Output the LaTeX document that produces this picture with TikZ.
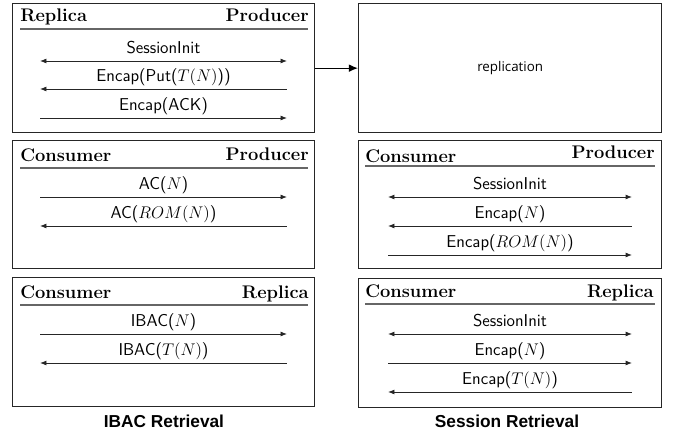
\documentclass[tikz,border=0pt]{standalone}
\usepackage{fontspec}
\newfontfamily\repfont{Open Sans}
\newfontfamily\capfont{Liberation Sans}
\usetikzlibrary{arrows.meta, positioning}
\tikzset{
  x=0.025cm, y=-0.025cm,                  % one unit = one pixel of the sketch
  frame/.style   = {draw=black!85, line width=0.9pt, anchor=north west,
                    minimum width=7.55cm, minimum height=3.225cm, inner sep=0pt},
  party/.style   = {font=\fontsize{13}{15}\selectfont\bfseries, inner sep=0pt},
  rule/.style    = {draw=black!60, line width=1pt},
  lbl/.style     = {font=\fontsize{12.2}{14}\selectfont\sffamily, anchor=base,
                    inner sep=0pt, yshift=5pt},
  msg/.style     = {line width=0.65pt, draw=black!85},
  fw/.style      = {msg, -{Latex[length=4.6pt, width=3.6pt]}},
  bw/.style      = {msg, {Latex[length=4.6pt, width=3.6pt]}-},
  bi/.style      = {msg, {Latex[length=4.6pt, width=3.6pt]}-{Latex[length=4.6pt, width=3.6pt]}},
  caption/.style = {font=\fontsize{12.3}{14}\selectfont\capfont\bfseries, inner sep=0pt}
}
\begin{document}
\begin{tikzpicture}
  \useasboundingbox (0,0) rectangle (675,434);

  % left column: IBAC retrieval
  \node[frame] (repprod) at (12,3) {};
  \node[party, anchor=base west] (rp-a) at (20,21) {Replica};
  \node[party, anchor=base east] (rp-b) at (309,21) {Producer};
  \draw[rule] (20,29) -- (308,29);
  \coordinate (rp1l) at (40,61);  \coordinate (rp1r) at (287,61);
  \coordinate (rp2l) at (40,89);  \coordinate (rp2r) at (287,89);
  \coordinate (rp3l) at (40,118); \coordinate (rp3r) at (287,118);
  \draw[bi] (rp1l) -- node[lbl] {SessionInit} (rp1r);
  \draw[bw] (rp2l) -- node[lbl] {Encap(Put($T(N)$))} (rp2r);
  \draw[fw] (rp3l) -- node[lbl] {Encap(ACK)} (rp3r);

  \node[frame, minimum height=3.2cm] (acbox) at (12,140) {};
  \node[party, anchor=base west] (ac-a) at (20,161) {Consumer};
  \node[party, anchor=base east] (ac-b) at (309,160) {Producer};
  \draw[rule] (20,168) -- (308,168);
  \coordinate (ac1l) at (40,197); \coordinate (ac1r) at (287,197);
  \coordinate (ac2l) at (40,226); \coordinate (ac2r) at (287,226);
  \draw[fw] (ac1l) -- node[lbl] {AC($N$)} (ac1r);
  \draw[bw] (ac2l) -- node[lbl] {AC($ROM(N)$)} (ac2r);

  \node[frame] (ibbox) at (12,277) {};
  \node[party, anchor=base west] (ib-a) at (20,298) {Consumer};
  \node[party, anchor=base east] (ib-b) at (309,298) {Replica};
  \draw[rule] (20,305) -- (308,305);
  \coordinate (ib1l) at (40,334); \coordinate (ib1r) at (287,334);
  \coordinate (ib2l) at (40,363); \coordinate (ib2r) at (287,363);
  \draw[fw] (ib1l) -- node[lbl] {IBAC($N$)} (ib1r);
  \draw[bw] (ib2l) -- node[lbl] {IBAC($T(N)$)} (ib2r);

  \node[caption] (ibcap) at (164,421) {IBAC Retrieval};

  % right column: session retrieval
  \node[frame, minimum width=7.575cm] (replbox) at (358,3) {};
  \node[font=\fontsize{9.5}{11}\selectfont\repfont] (repl) at (replbox.center) {replication};
  \draw[line width=0.9pt, -{Latex[length=6.5pt, width=5.5pt]}] (repprod.east) -- (replbox.west);

  \node[frame, minimum width=7.575cm, minimum height=3.2cm] (sebox) at (358,140) {};
  \node[party, anchor=base west] (se-a) at (365,162) {Consumer};
  \node[party, anchor=base east] (se-b) at (655,158) {Producer};
  \draw[rule] (365,166) -- (655,166);
  \coordinate (se1l) at (388,197); \coordinate (se1r) at (632,197);
  \coordinate (se2l) at (388,226); \coordinate (se2r) at (632,226);
  \coordinate (se3l) at (388,255); \coordinate (se3r) at (632,255);
  \draw[bi] (se1l) -- node[lbl] {SessionInit} (se1r);
  \draw[bw] (se2l) -- node[lbl] {Encap($N$)} (se2r);
  \draw[fw] (se3l) -- node[lbl] {Encap($ROM(N)$)} (se3r);

  \node[frame, minimum width=7.575cm] (srbox) at (358,278) {};
  \node[party, anchor=base west] (sr-a) at (365,297) {Consumer};
  \node[party, anchor=base east] (sr-b) at (654,297) {Replica};
  \draw[rule] (365,304) -- (655,304);
  \coordinate (sr1l) at (388,334); \coordinate (sr1r) at (632,334);
  \coordinate (sr2l) at (388,363); \coordinate (sr2r) at (632,363);
  \coordinate (sr3l) at (388,392); \coordinate (sr3r) at (632,392);
  \draw[bi] (sr1l) -- node[lbl] {SessionInit} (sr1r);
  \draw[fw] (sr2l) -- node[lbl] {Encap($N$)} (sr2r);
  \draw[bw] (sr3l) -- node[lbl] {Encap($T(N)$)} (sr3r);

  \node[caption] (secap) at (507,421) {Session Retrieval};
\end{tikzpicture}
\end{document}
